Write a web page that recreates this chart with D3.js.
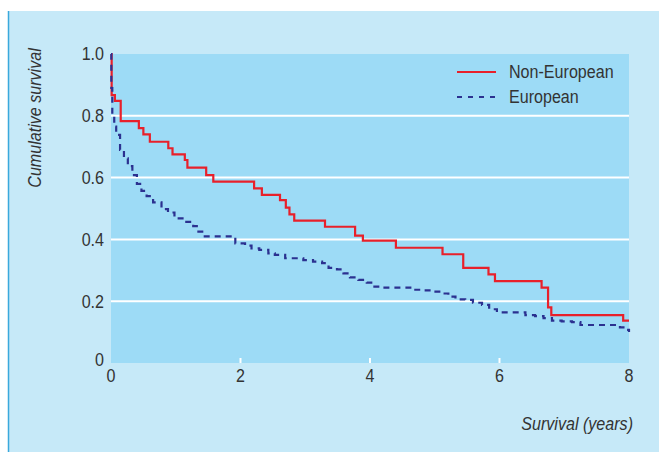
<!DOCTYPE html>
<html>
<head>
<meta charset="utf-8">
<script src="https://cdn.jsdelivr.net/npm/d3@7"></script>
<style>
  body { margin: 0; background: #fff; }
  text { font-family: "Liberation Sans", Arial, sans-serif; fill: #333; }
</style>
</head>
<body>
<svg id="chart"></svg>
<script>
// Non-European (red): step times and survival after each step
const nonEuroTime = [0, 0.01, 0.06, 0.15, 0.43, 0.50, 0.60, 0.885, 0.95, 1.14, 1.18, 1.47, 1.58, 2.21, 2.33, 2.61, 2.70, 2.756, 2.83, 3.305, 3.77, 3.89, 4.40, 5.12, 5.44, 5.83, 5.93, 6.65, 6.75, 6.80, 7.91, 8.0];
const nonEuroSurv = [1.0, 0.867, 0.848, 0.783, 0.76, 0.74, 0.716, 0.695, 0.675, 0.657, 0.632, 0.608, 0.587, 0.565, 0.544, 0.527, 0.503, 0.481, 0.461, 0.441, 0.412, 0.396, 0.373, 0.352, 0.308, 0.287, 0.265, 0.244, 0.180, 0.155, 0.137, 0.137];

// European (blue dashed)
const euroTime = [0, 0.005, 0.02, 0.05, 0.08, 0.14, 0.20, 0.26, 0.33, 0.40, 0.47, 0.55, 0.65, 0.78, 0.88, 0.98, 1.14, 1.27, 1.35, 1.43, 1.92, 2.07, 2.17, 2.29, 2.43, 2.53, 2.69, 2.97, 3.12, 3.26, 3.36, 3.49, 3.59, 3.69, 3.82, 3.95, 4.05, 4.18, 4.67, 4.82, 4.98, 5.11, 5.21, 5.32, 5.47, 5.59, 5.73, 5.84, 5.96, 6.40, 6.55, 6.68, 6.81, 6.96, 7.12, 7.25, 7.86, 7.96, 8.0];
const euroSurv = [1.0, 0.89, 0.80, 0.765, 0.738, 0.69, 0.662, 0.637, 0.608, 0.580, 0.557, 0.540, 0.520, 0.498, 0.487, 0.468, 0.457, 0.443, 0.425, 0.410, 0.387, 0.380, 0.371, 0.366, 0.355, 0.350, 0.339, 0.333, 0.328, 0.323, 0.308, 0.303, 0.290, 0.277, 0.269, 0.260, 0.247, 0.244, 0.237, 0.235, 0.231, 0.225, 0.215, 0.206, 0.204, 0.195, 0.188, 0.174, 0.164, 0.155, 0.152, 0.145, 0.137, 0.135, 0.132, 0.123, 0.115, 0.107, 0.10];

const xTicks = [0, 2, 4, 6, 8];
const yTicks = [0, 0.2, 0.4, 0.6, 0.8, 1.0];
const yTickLabels = ["0", "0.2", "0.4", "0.6", "0.8", "1.0"];
const seriesNames = ["Non-European", "European"];

let svgWidth = 659, svgHeight = 452;
let plotLeft = 111, plotRight = 629, plotTop = 54, plotBottom = 363;
const squeeze = 0.87; // condensed look of the original type

var svg = d3.select("#chart")
    .attr("width", svgWidth)
    .attr("height", svgHeight);

// place a text at (px,py) and squeeze it horizontally
function narrow(px, py, rot) {
    return "translate(" + px + "," + py + ")" + (rot ? " rotate(" + rot + ")" : "") + " scale(" + squeeze + ",1)";
}

// outer panel
svg.append("rect")
    .attr("x", 8).attr("y", 11)
    .attr("width", svgWidth - 8).attr("height", svgHeight - 11)
    .attr("fill", "#c6e9f8");
svg.append("line")
    .attr("x1", 8.5).attr("x2", 8.5).attr("y1", 11).attr("y2", svgHeight)
    .attr("stroke", "#3aa9dc").attr("stroke-width", 1.5);

var x = d3.scaleLinear().domain([0, 8]).range([plotLeft, plotRight]);
var y = d3.scaleLinear().domain([0, 1]).range([plotBottom, plotTop]);

// plot background
svg.append("rect")
    .attr("x", x(0)).attr("y", y(1))
    .attr("width", x(8) - x(0)).attr("height", y(0) - y(1))
    .attr("fill", "#9ddbf6");

// gridlines
svg.selectAll(".grid")
    .data(yTicks.filter(d => d > 0 && d < 1))
    .enter()
    .append("line")
    .attr("x1", x(0)).attr("x2", x(8))
    .attr("y1", d => y(d)).attr("y2", d => y(d))
    .attr("stroke", "#fff").attr("stroke-width", 2);

// small white ticks at the bottom
svg.selectAll(".xtick")
    .data(xTicks.filter(d => d > 0 && d < 8))
    .enter()
    .append("line")
    .attr("x1", d => x(d)).attr("x2", d => x(d))
    .attr("y1", y(0)).attr("y2", y(0) - 5)
    .attr("stroke", "#fff").attr("stroke-width", 2);

// y tick labels
svg.selectAll(".ylab")
    .data(yTicks)
    .enter()
    .append("text")
    .attr("transform", d => narrow(104, y(d) - (d == 0 ? 3 : 0)))
    .attr("text-anchor", "end")
    .attr("dominant-baseline", "central")
    .style("font-size", "18.5px")
    .text((d, i) => yTickLabels[i]);

// x tick labels
svg.selectAll(".xlab")
    .data(xTicks)
    .enter()
    .append("text")
    .attr("transform", d => narrow(x(d), 382))
    .attr("text-anchor", "middle")
    .style("font-size", "18.5px")
    .text(d => d);

// axis titles
svg.append("text")
    .attr("transform", narrow(41, 118, -90))
    .attr("text-anchor", "middle")
    .style("font-size", "18.5px")
    .style("font-style", "italic")
    .text("Cumulative survival");

svg.append("text")
    .attr("transform", narrow(633, 430))
    .attr("text-anchor", "end")
    .style("font-size", "18.5px")
    .style("font-style", "italic")
    .text("Survival (years)");

var line = d3.line()
    .x(d => x(d[0]))
    .y(d => y(d[1]))
    .curve(d3.curveStepAfter);

var euroData = euroTime.map((t, i) => [t, euroSurv[i]]);
var nonEuroData = nonEuroTime.map((t, i) => [t, nonEuroSurv[i]]);

svg.append("path")
    .attr("d", line(nonEuroData))
    .attr("fill", "none")
    .attr("stroke", "#e8202a")
    .attr("stroke-width", 2.2);

svg.append("path")
    .attr("d", line(euroData))
    .attr("fill", "none")
    .attr("stroke", "#2b3190")
    .attr("stroke-width", 2.2)
    .attr("stroke-dasharray", "6,5");

// legend
var legend = svg.append("g");
legend.append("line")
    .attr("x1", 457).attr("x2", 496).attr("y1", 72).attr("y2", 72)
    .attr("stroke", "#e8202a").attr("stroke-width", 2);
legend.append("line")
    .attr("x1", 457).attr("x2", 496).attr("y1", 97).attr("y2", 97)
    .attr("stroke", "#2b3190").attr("stroke-width", 2)
    .attr("stroke-dasharray", "5,6");
legend.selectAll("text")
    .data(seriesNames)
    .enter()
    .append("text")
    .attr("transform", (d, i) => narrow(509, 72 + i * 25))
    .attr("dominant-baseline", "central")
    .style("font-size", "18.5px")
    .text(d => d);
</script>
</body>
</html>
